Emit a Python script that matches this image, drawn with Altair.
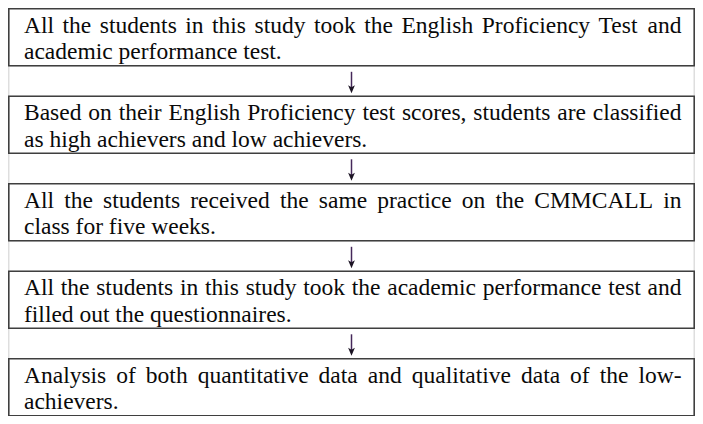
import altair as alt
import pandas as pd

# ---------------- data: the five steps of the flow chart ----------------
step_id = [1, 2, 3, 4, 5]
step_line1 = [
    "All the students in this study took the English Proficiency Test and",
    "Based on their English Proficiency test scores, students are classified",
    "All the students received the same practice on the CMMCALL in",
    "All the students in this study took the academic performance test and",
    "Analysis of both quantitative data and qualitative data of the low-",
]
step_line2 = [
    "academic performance test.",
    "as high achievers and low achievers.",
    "class for five weeks.",
    "filled out the questionnaires.",
    "achievers.",
]
arrow_glyph = ["↓", "↓", "↓", "↓"]

# ---------------- layout constants ----------------
W, H = 687, 408
TOP = 0.8
LEFT = 0.8
RIGHT = 686.2
BOX_H = 57.0
GAP_H = 30.5
TEXT_L = 16.0
TEXT_R = 673.5
BASE1 = 24.0
BASE2 = 50.5
FONT = "Liberation Serif"
FS = 23.5

# Times-compatible advance widths (per 1000 em) used to justify first lines
TW = {" ": 250, ",": 250, ".": 250, "-": 333,
      "a": 444, "b": 500, "c": 444, "d": 500, "e": 444, "f": 333, "g": 500,
      "h": 500, "i": 278, "j": 278, "k": 500, "l": 278, "m": 778, "n": 500,
      "o": 500, "p": 500, "q": 500, "r": 333, "s": 389, "t": 278, "u": 500,
      "v": 500, "w": 722, "x": 500, "y": 500, "z": 444,
      "A": 722, "B": 667, "C": 667, "D": 722, "E": 611, "F": 556, "G": 722,
      "H": 722, "I": 333, "J": 389, "K": 722, "L": 611, "M": 889, "N": 722,
      "O": 722, "P": 556, "Q": 722, "R": 667, "S": 556, "T": 611, "U": 722,
      "V": 722, "W": 944, "X": 722, "Y": 722, "Z": 611}


def wlen(s):
    return sum(TW.get(c, 500) for c in s) * FS / 1000.0


box_rows, gap_rows, left_words, right_words, line2_rows = [], [], [], [], []
for i, sid in enumerate(step_id):
    y0 = TOP + i * (BOX_H + GAP_H)
    box_rows.append({"step": sid, "x0": LEFT, "x1": RIGHT, "y0": y0, "y1": y0 + BOX_H})
    if i < len(arrow_glyph):
        g0 = y0 + BOX_H
        gap_rows.append({"x0": LEFT, "x1": RIGHT, "y0": g0, "y1": g0 + GAP_H,
                         "xc": (LEFT + RIGHT) / 2, "s0": g0 + 6.0, "s1": g0 + 23.0,
                         "head": g0 + 23.5})
    words = step_line1[i].split(" ")
    widths = [wlen(w) for w in words]
    gap = (TEXT_R - TEXT_L - sum(widths)) / (len(words) - 1)
    x = TEXT_L
    for k, (w, wd) in enumerate(zip(words, widths)):
        if k == len(words) - 1:
            right_words.append({"t": w, "x": TEXT_R, "y": y0 + BASE1})
        else:
            left_words.append({"t": w, "x": x, "y": y0 + BASE1})
        x += wd + gap
    line2_rows.append({"t": step_line2[i], "x": TEXT_L, "y": y0 + BASE2})

xs = alt.Scale(domain=[0, W], nice=False, zero=False)
ys = alt.Scale(domain=[0, H], nice=False, zero=False, reverse=True)


def X(f):
    return alt.X(f, type="quantitative", scale=xs, axis=None)


def Y(f):
    return alt.Y(f, type="quantitative", scale=ys, axis=None)


gaps = alt.Chart(pd.DataFrame(gap_rows)).mark_rect(
    fill="white", stroke="#d6d6d6", strokeWidth=1.2
).encode(x=X("x0"), x2="x1", y=Y("y0"), y2="y1")

boxes = alt.Chart(pd.DataFrame(box_rows)).mark_rect(
    fill="white", stroke="#3f3f3f", strokeWidth=1.6
).encode(x=X("x0"), x2="x1", y=Y("y0"), y2="y1")

stems = alt.Chart(pd.DataFrame(gap_rows)).mark_rule(
    color="#45285a", strokeWidth=1.5
).encode(x=X("xc"), y=Y("s0"), y2="s1")

heads = alt.Chart(pd.DataFrame(gap_rows)).mark_point(
    shape="M-0.85,-1L0,-0.5L0.85,-1L0,1Z", size=64, filled=True,
    color="#1c1424", opacity=1
).encode(x=X("xc"), y=Y("head"))

txt = dict(font=FONT, fontSize=FS, color="#0a0a0a", baseline="alphabetic")
wl = alt.Chart(pd.DataFrame(left_words)).mark_text(align="left", **txt).encode(
    x=X("x"), y=Y("y"), text="t:N")
wr = alt.Chart(pd.DataFrame(right_words)).mark_text(align="right", **txt).encode(
    x=X("x"), y=Y("y"), text="t:N")
l2 = alt.Chart(pd.DataFrame(line2_rows)).mark_text(align="left", **txt).encode(
    x=X("x"), y=Y("y"), text="t:N")

chart = alt.layer(gaps, boxes, stems, heads, wl, wr, l2).properties(
    width=W, height=H,
    autosize=alt.AutoSizeParams(type="none"),
    padding=0,
    background="white",
).configure_view(stroke=None)

chart.save("out.html", embed_options={"renderer": "svg", "actions": False})
